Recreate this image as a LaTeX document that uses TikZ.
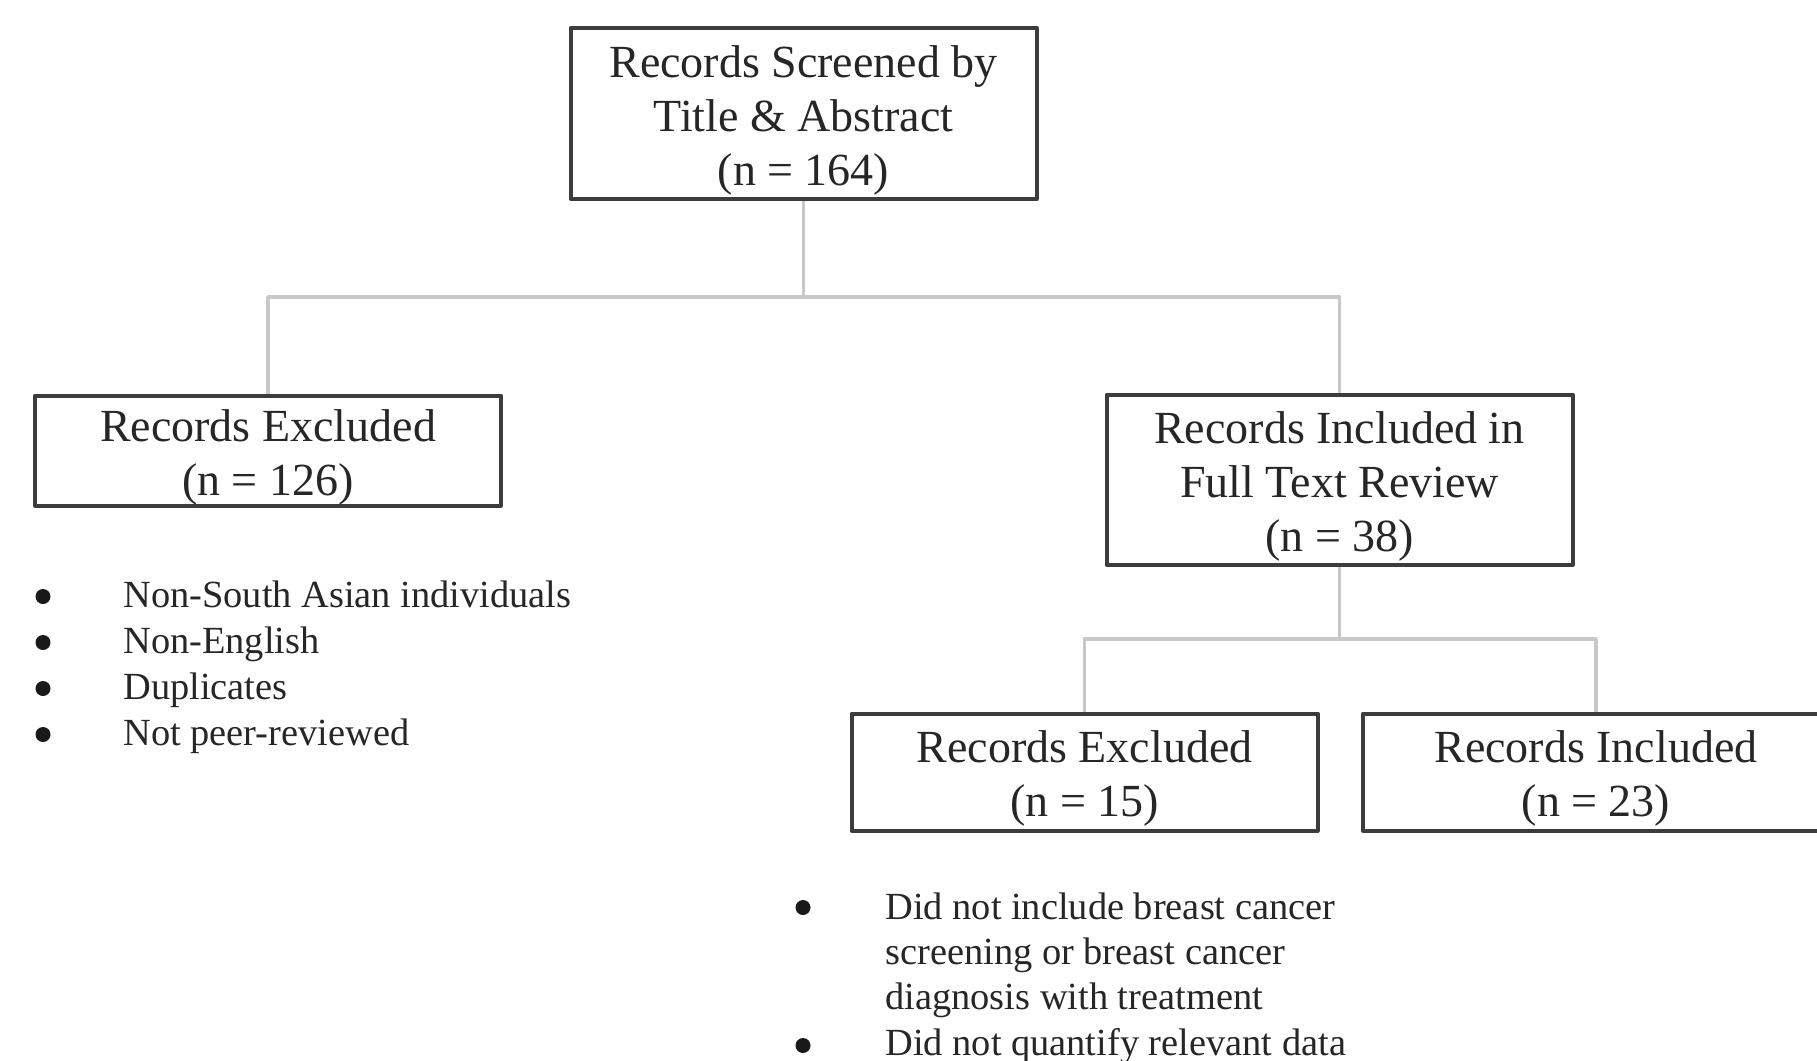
\documentclass[tikz,border=0pt]{standalone}
\usepackage{fontspec}
\setmainfont{Liberation Serif}
\definecolor{boxline}{HTML}{3C3C3C}
\definecolor{linkline}{HTML}{C8C8C8}
\definecolor{txt}{HTML}{262626}
\newcommand{\topstrut}{\rule{0pt}{22.7pt}}
\begin{document}
\begin{tikzpicture}[x=0.5pt, y=-0.5pt, line join=round, text=txt,
  box/.style={draw=boxline, line width=2pt, align=center, inner sep=0pt,
    minimum width=233pt, font=\fontsize{23}{27}\selectfont},
  link/.style={draw=linkline, line width=1.8pt},
  item/.style={anchor=base west, inner sep=0pt, font=\fontsize{19.2}{23}\selectfont},
  dot/.style={circle, fill=black!90, inner sep=0pt, minimum size=7.5pt}]
\useasboundingbox (0,0) rectangle (1817,1061);
% boxes
\node[box, minimum height=85.5pt] (screen) at (803.5,113.5) {\topstrut Records Screened by\\Title \& Abstract\\(n = 164)};
\node[box, minimum height=55pt] (excl) at (268,450.5) {\topstrut Records Excluded\\(n = 126)};
\node[box, minimum height=85pt] (full) at (1339.5,479.5) {\topstrut Records Included in\\Full Text Review\\(n = 38)};
\node[box, minimum height=58.5pt] (exclft) at (1084.5,772) {\topstrut Records Excluded\\(n = 15)};
\node[box, minimum height=58.5pt] (incl) at (1596,772) {\topstrut Records Included\\(n = 23)};
% connectors
\coordinate (splitA) at (803.5,297);
\coordinate (splitB) at (1339.5,639);
\draw[link] (screen) -- (splitA) -| (excl);
\draw[link] (splitA) -| (full);
\draw[link] (full) -- (splitB) -| (exclft);
\draw[link] (splitB) -| (incl);
% reasons for exclusion
\foreach \txt [count=\i] in {Non-South Asian individuals, Non-English, Duplicates, Not peer-reviewed}{
  \node[dot] (dotA\i) at (43,{596.5+46*(\i-1)}) {};
  \node[item] (whyA\i) at (123,{607.5+46*(\i-1)}) {\txt};
}
\node[dot] (dotB1) at (803,907.5) {};
\node[item] (whyB1) at (885,919.5) {Did not include breast cancer};
\node[item] (whyB2) at (885,964.5) {screening or breast cancer};
\node[item] (whyB3) at (885,1009.5) {diagnosis with treatment};
\node[dot] (dotB2) at (803,1045.5) {};
\node[item] (whyB4) at (885,1055.5) {Did not quantify relevant data};
\end{tikzpicture}
\end{document}
